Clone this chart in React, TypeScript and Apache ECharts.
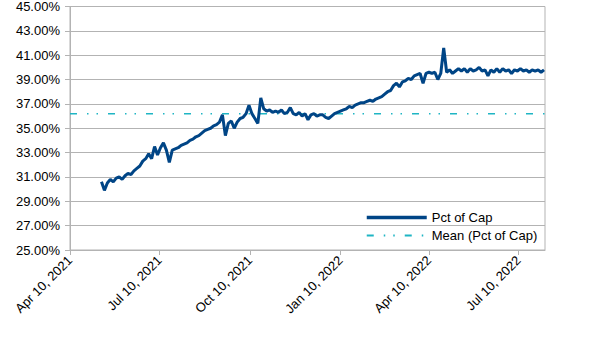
import React, { useEffect, useRef } from "react";
import * as echarts from "echarts";

// Readings every 3 days starting May 12, 2021, in percent
const startDate = Date.UTC(2021, 4, 12);
const stepDays = 3;
const pctOfCap: number[] = [
  30.6, 29.9, 30.5, 30.8, 30.6, 30.9, 31.0, 30.8, 31.1, 31.3,
  31.2, 31.5, 31.7, 31.9, 32.3, 32.5, 32.9, 32.5, 33.5, 32.8,
  33.4, 33.8, 33.2, 32.2, 33.2, 33.3, 33.4, 33.6, 33.7, 33.8,
  34.0, 34.1, 34.3, 34.4, 34.6, 34.8, 34.9, 35.0, 35.2, 35.3,
  35.5, 36.1, 34.4, 35.4, 35.6, 35.0, 35.5, 35.8, 35.9, 36.2,
  36.9, 36.2, 35.8, 35.4, 37.5, 36.6, 36.4, 36.5, 36.3, 36.4,
  36.3, 36.5, 36.2, 36.3, 36.7, 36.2, 36.1, 36.3, 36.0, 36.2,
  35.7, 36.1, 36.2, 36.0, 36.1, 36.1, 35.9, 35.8, 36.0, 36.2,
  36.3, 36.4, 36.5, 36.6, 36.8, 36.7, 36.9, 37.0, 37.1, 37.1,
  37.2, 37.3, 37.2, 37.4, 37.5, 37.6, 37.8, 38.0, 38.1, 38.5,
  38.7, 38.4, 38.8, 38.9, 39.1, 39.0, 39.3, 39.4, 39.5, 38.7,
  39.5, 39.6, 39.5, 39.6, 39.0, 39.5, 41.6, 39.6, 39.8, 39.5,
  39.7, 39.9, 39.7, 39.9, 39.6, 39.9, 39.7, 39.8, 40.0, 39.7,
  39.8, 39.3, 39.8, 39.6, 39.9, 39.6, 39.9, 39.7, 39.8, 39.5,
  39.8, 39.7, 39.9, 39.7, 39.8, 39.6, 39.8, 39.7, 39.8, 39.6,
  39.8,
];
const meanPct = 36.2;

const xTickDates: number[] = [
  Date.UTC(2021, 3, 10),
  Date.UTC(2021, 6, 10),
  Date.UTC(2021, 9, 10),
  Date.UTC(2022, 0, 10),
  Date.UTC(2022, 3, 10),
  Date.UTC(2022, 6, 10),
];
const xMin = Date.UTC(2021, 3, 10);
const xMax = Date.UTC(2022, 7, 6);

const yMin = 25;
const yMax = 45;
const yStep = 2;

const seriesNames = ["Pct of Cap", "Mean (Pct of Cap)"];
const MONTHS = ["Jan", "Feb", "Mar", "Apr", "May", "Jun", "Jul", "Aug", "Sep", "Oct", "Nov", "Dec"];
const FONT = "Liberation Sans, Arial, sans-serif";

export default function App() {
  const ref = useRef<HTMLDivElement>(null);
  useEffect(() => {
    if (!ref.current) return;
    const chart = echarts.init(ref.current, undefined, { renderer: "svg" });
    const dayMs = 86400000;
    const lineData = pctOfCap.map((v, i) => [startDate + i * stepDays * dayMs, v]);
    chart.setOption({
      animation: false,
      backgroundColor: "#ffffff",
      grid: {
        left: 70,
        right: 60,
        top: 6,
        bottom: 90,
        show: true,
        borderColor: "#b3b3b3",
        borderWidth: 1,
      },
      legend: {
        orient: "vertical",
        left: 360,
        top: 206,
        itemWidth: 60,
        itemHeight: 14,
        itemGap: 5,
        itemStyle: { opacity: 0 },
        textStyle: { fontSize: 13, color: "#000", fontFamily: FONT },
        data: [
          { name: seriesNames[0], lineStyle: { width: 3.5 } },
          { name: seriesNames[1] },
        ],
      },
      xAxis: {
        type: "value",
        min: xMin,
        max: xMax,
        axisLine: { show: true, lineStyle: { color: "#b3b3b3" } },
        axisTick: {
          show: true,
          length: 5,
          customValues: xTickDates,
          lineStyle: { color: "#b3b3b3" },
        },
        splitLine: { show: false },
        axisLabel: {
          customValues: xTickDates,
          rotate: 45,
          margin: 8,
          fontSize: 13,
          color: "#000",
          fontFamily: FONT,
          hideOverlap: false,
          formatter: (v: number) => {
            const d = new Date(v);
            return `${MONTHS[d.getUTCMonth()]} ${d.getUTCDate()}, ${d.getUTCFullYear()}`;
          },
        },
      },
      yAxis: {
        type: "value",
        min: yMin,
        max: yMax,
        interval: yStep,
        axisLine: { show: true, lineStyle: { color: "#b3b3b3" } },
        axisTick: { show: true, length: 5, lineStyle: { color: "#b3b3b3" } },
        splitLine: { show: true, lineStyle: { color: "#b3b3b3", width: 1 } },
        axisLabel: {
          margin: 10,
          fontSize: 13,
          color: "#000",
          fontFamily: FONT,
          formatter: (v: number) => v.toFixed(2) + "%",
        },
      },
      series: [
        {
          name: seriesNames[0],
          type: "line",
          data: lineData,
          symbol: "none",
          showSymbol: false,
          color: "#004586",
          lineStyle: { color: "#004586", width: 3 },
          z: 3,
        },
        {
          name: seriesNames[1],
          type: "line",
          data: [
            [xMin, meanPct],
            [xMax, meanPct],
          ],
          symbol: "none",
          showSymbol: false,
          color: "#1fb5c4",
          lineStyle: { color: "#1fb5c4", width: 1.5, type: [7, 10, 1.5, 8, 1.5, 10] },
          z: 2,
        },
      ],
    });
    return () => chart.dispose();
  }, []);
  return (
    <div
      ref={ref}
      style={{ position: "fixed", left: 0, top: 0, width: 605, height: 340, background: "#fff" }}
    />
  );
}
